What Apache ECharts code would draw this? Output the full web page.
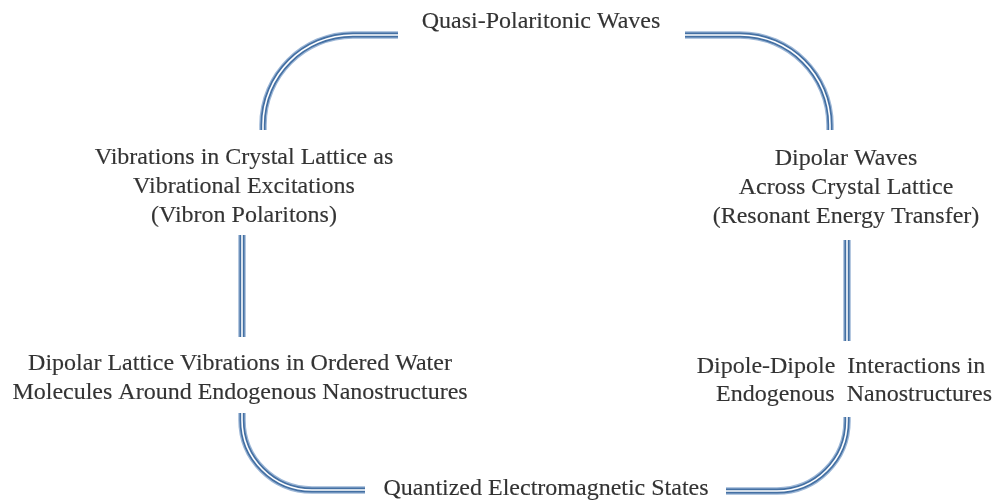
<!DOCTYPE html>
<html style="height: 100%">
  <head>
    <meta charset="UTF-8" />
    <title>Polariton cycle</title>
    <script src="https://cdn.jsdelivr.net/npm/echarts@6/dist/echarts.min.js"></script>
  </head>
  <body style="height: 100%; margin: 0; background: #fff">
    <div id="main" style="width: 1001px; height: 501px"></div>
    <script>
      // text boxes (centre of each block, in picture pixels)
      var nodeLabels = [
        'Quasi-Polaritonic Waves',
        'Vibrations in Crystal Lattice as\nVibrational Excitations\n(Vibron Polaritons)',
        'Dipolar Waves\nAcross Crystal Lattice\n(Resonant Energy Transfer)',
        'Dipolar Lattice Vibrations in Ordered Water\nMolecules Around Endogenous Nanostructures',
        'Dipole-Dipole  Interactions in',
        'Endogenous  Nanostructures',
        'Quantized Electromagnetic States'
      ];
      var nodeX = [541, 244, 846, 240, 841, 854, 546];
      var nodeY = [22, 187, 188, 378, 367, 395, 489];

      // connectors: waypoints, corner radius
      var connectorPaths = [
        [[263, 130], [263, 35], [398, 35]],
        [[685, 35], [830, 35], [830, 130]],
        [[242, 235], [242, 337]],
        [[847, 240], [847, 341]],
        [[242, 413], [242, 490], [365, 490]],
        [[726, 491], [847, 491], [847, 417]]
      ];
      var cornerRadius = [90, 90, 0, 0, 70, 70];

      var chart = echarts.init(document.getElementById('main'));

      function buildPath(pts, r) {
        var k = 0.5523;
        var d = 'M' + pts[0][0] + ' ' + pts[0][1];
        for (var i = 1; i < pts.length - 1; i++) {
          var a = pts[i - 1], c = pts[i], b = pts[i + 1];
          var l1 = Math.hypot(c[0] - a[0], c[1] - a[1]);
          var l2 = Math.hypot(b[0] - c[0], b[1] - c[1]);
          var din = [(c[0] - a[0]) / l1, (c[1] - a[1]) / l1];
          var dout = [(b[0] - c[0]) / l2, (b[1] - c[1]) / l2];
          var p0 = [c[0] - din[0] * r, c[1] - din[1] * r];
          var p1 = [c[0] + dout[0] * r, c[1] + dout[1] * r];
          d += ' L' + p0[0] + ' ' + p0[1];
          d += ' C' + (p0[0] + din[0] * r * k) + ' ' + (p0[1] + din[1] * r * k) +
            ' ' + (p1[0] - dout[0] * r * k) + ' ' + (p1[1] - dout[1] * r * k) +
            ' ' + p1[0] + ' ' + p1[1];
        }
        var last = pts[pts.length - 1];
        d += ' L' + last[0] + ' ' + last[1];
        return d;
      }

      var option = {
        animation: false,
        grid: { left: 0, right: 0, top: 0, bottom: 0 },
        xAxis: { type: 'value', min: 0, max: 1001, show: false },
        yAxis: { type: 'value', min: 0, max: 501, inverse: true, show: false },
        series: [
          {
            type: 'custom',
            clip: false,
            data: connectorPaths.map(function (p) { return p[0]; }),
            renderItem: function (params, api) {
              var pts = connectorPaths[params.dataIndex].map(function (p) {
                return api.coord(p);
              });
              var d = buildPath(pts, cornerRadius[params.dataIndex]);
              var layers = [
                { stroke: '#9cb6d6', lineWidth: 7.5 },
                { stroke: '#4470a3', lineWidth: 5 },
                { stroke: '#ffffff', lineWidth: 1.6 }
              ];
              return {
                type: 'group',
                children: layers.map(function (s) {
                  return {
                    type: 'path',
                    shape: { pathData: d },
                    style: { fill: 'none', stroke: s.stroke, lineWidth: s.lineWidth, lineCap: 'butt' }
                  };
                })
              };
            }
          },
          {
            type: 'scatter',
            symbolSize: 0,
            data: nodeLabels.map(function (t, i) {
              return { name: t, value: [nodeX[i], nodeY[i]] };
            }),
            label: {
              show: true,
              position: 'inside',
              formatter: function (p) { return p.name; },
              fontFamily: 'Liberation Serif',
              fontSize: 24,
              lineHeight: 29,
              color: '#000',
              textBorderColor: '#000',
              textBorderWidth: 0.15,
              align: 'center',
              verticalAlign: 'middle'
            }
          }
        ]
      };

      chart.setOption(option);
    </script>
  </body>
</html>
